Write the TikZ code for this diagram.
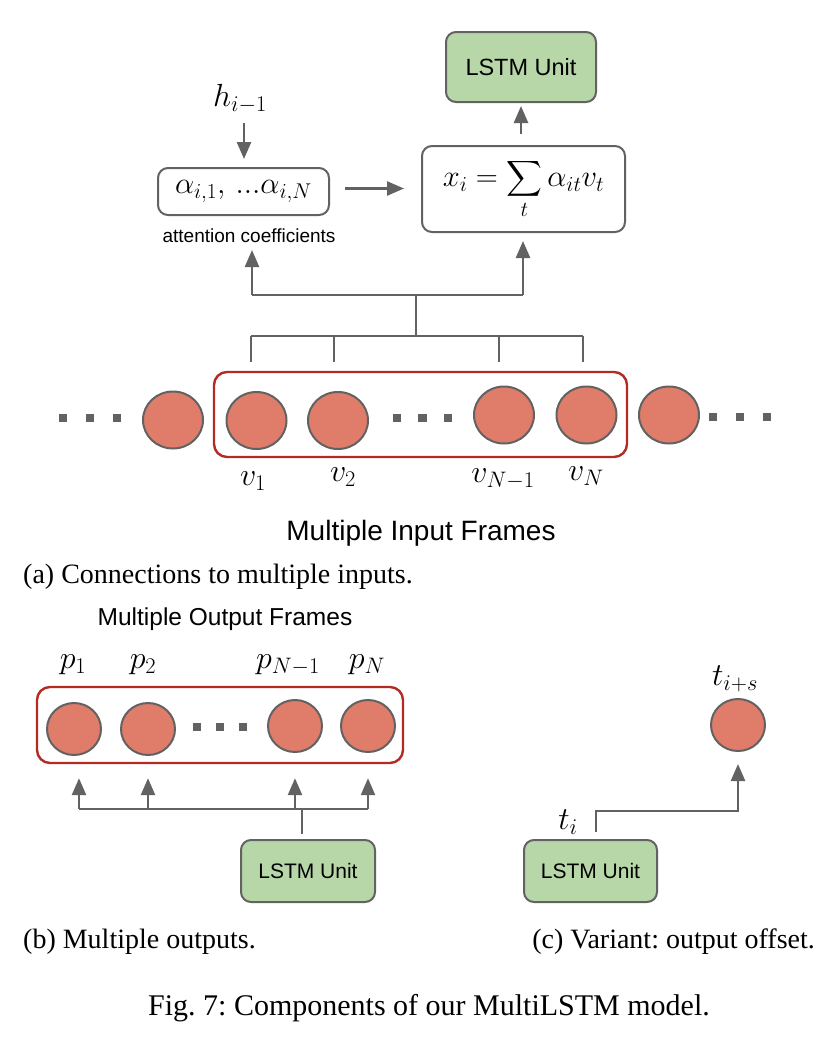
\RequirePackage{fix-cm}
\documentclass[tikz,border=0pt]{standalone}
\usepackage{exscale}
\usepackage[no-math]{fontspec}
\setmainfont{Liberation Serif}
\newfontfamily\arialf{Liberation Sans}
\usetikzlibrary{arrows.meta,shapes.geometric,calc}
\definecolor{gline}{RGB}{98,98,98}
\definecolor{frmred}{RGB}{178,44,34}
\definecolor{salmon}{RGB}{224,124,106}
\definecolor{lgreen}{RGB}{183,215,168}
\tikzset{
  conn/.style={draw=gline, line width=2.5pt},
  arr/.style={conn, -{Triangle[width=14pt,length=17pt]}},
  lstm/.style={draw=gline, line width=2pt, fill=lgreen, rounded corners=10pt, inner sep=0pt},
  wbox/.style={draw=gline, line width=2pt, fill=white, rounded corners=10pt, inner sep=0pt},
  redbox/.style={draw=frmred, line width=2.4pt, rounded corners=13pt, inner sep=0pt},
  frm/.style={ellipse, draw=gline, line width=2pt, fill=salmon, minimum width=60pt, minimum height=57pt, inner sep=0pt},
  frms/.style={frm, minimum width=54pt, minimum height=52pt},
  sqdot/.style={rectangle, fill=gline, minimum size=8.5pt, inner sep=0pt},
  mlab/.style={inner sep=0pt, font=\fontsize{32}{38}\selectfont},
  sflab/.style={inner sep=0pt, font=\arialf\fontsize{#1}{#1}\selectfont},
  captxt/.style={inner sep=0pt, font=\fontsize{28}{32}\selectfont},
}
\begin{document}
\frenchspacing
\begin{tikzpicture}[x=1pt,y=-1pt]
\useasboundingbox[fill=white] (0,0) rectangle (823,1058);

% ---------- (a) ----------
\node[lstm, minimum width=150pt, minimum height=70pt] (lstmA) at (521,67) {\arialf\fontsize{23.5}{26}\selectfont LSTM Unit};
\node[wbox, minimum width=203pt, minimum height=86pt] (sum) at (523.5,189) {\fontsize{30.5}{34}\selectfont $x_i = \displaystyle\sum_t \alpha_{it} v_t$};
\node[wbox, minimum width=171pt, minimum height=47pt] (alpha) at (243.5,191.5) {\fontsize{30.5}{34}\selectfont $\alpha_{i,1},\,...\alpha_{i,N}$};
\node[sflab=19, anchor=base] (att) at (249,242) {attention coefficients};
\node[mlab] (h) at (240,99) {$h_{i-1}$};

\draw[arr] ($(h.center -| alpha.north)+(0.5,24)$) -- ($(alpha.north)+(0.5,-8)$);
\draw[arr] ($(alpha.east)+(15,-3)$) -- ($(alpha.east -| sum.west)+(-17,-3)$);
\draw[arr] ($(lstmA.south |- sum.north)+(0,-11)$) -- ($(lstmA.south)+(0,3)$);

\coordinate (bL) at (252,295);
\coordinate (bR) at (523,295);
\coordinate (bM) at (416,295);
\draw[conn] (bL) -- (bR);
\draw[arr] (bL) -- ($(bL |- att.base)+(0,8)$);
\draw[arr] (bR) -- ($(bR |- sum.south)+(0,8)$);

\node[redbox, minimum width=413pt, minimum height=85pt] (boxA) at (420.5,414.5) {};
\node[frm] (o1) at (173,420) {};
\node[frm] (v1) at (256.5,420.5) {};
\node[frm] (v2) at (338,420.5) {};
\node[frm] (vn1) at (504,415) {};
\node[frm] (vn) at (586.5,415) {};
\node[frm] (o2) at (669,415) {};
\foreach \x [count=\i] in {63,90,117}{\node[sqdot] (dl\i) at (\x,418) {};}
\foreach \x [count=\i] in {397,422.5,448}{\node[sqdot] (dm\i) at (\x,418) {};}
\foreach \x [count=\i] in {713,740,767}{\node[sqdot] (dr\i) at (\x,417) {};}

\coordinate (tM) at (416,336);
\coordinate (d1) at (251,336);
\coordinate (d2) at (334,336);
\coordinate (d3) at (499,336);
\coordinate (d4) at (583,336);
\draw[conn] (bM) -- (tM);
\draw[conn] (d1) -- (d4);
\foreach \d in {d1,d2,d3,d4}{\draw[conn, shorten >=9pt] (\d) -- (\d |- boxA.north);}

\node[mlab] (lv1) at (253,481) {$v_1$};
\node[mlab] (lv2) at (343,477) {$v_2$};
\node[mlab] (lvn1) at (503,479) {$v_{N-1}$};
\node[mlab] (lvn) at (586,476) {$v_N$};

\node[sflab=28, anchor=base] (inlab) at (421,540) {Multiple Input Frames};
\node[captxt, anchor=base west] (capa) at (23,583) {(a) Connections to multiple inputs.};

% ---------- (b) ----------
\node[sflab=24.5, anchor=base] (outlab) at (225,625) {Multiple Output Frames};
\node[redbox, minimum width=366pt, minimum height=76pt] (boxB) at (220,725) {};
\node[frms] (p1) at (74,729) {};
\node[frms] (p2) at (148,729) {};
\node[frms] (pn1) at (295,726) {};
\node[frms] (pn) at (368,726) {};
\foreach \x [count=\i] in {197,220,243}{\node[sqdot] (db\i) at (\x,727) {};}
\node[mlab] (lp1) at (73,665) {$p_1$};
\node[mlab] (lp2) at (143,665) {$p_2$};
\node[mlab] (lpn1) at (288,665) {$p_{N-1}$};
\node[mlab] (lpn) at (367,665) {$p_N$};

\node[lstm, minimum width=134pt, minimum height=62pt] (lstmB) at (308,871) {\arialf\fontsize{21}{24}\selectfont LSTM Unit};
\coordinate (hb) at (302,809);
\coordinate (a1) at (79,809);
\coordinate (a2) at (148,809);
\coordinate (a3) at (295,809);
\coordinate (a4) at (368,809);
\draw[conn] (a1) -- (a4);
\draw[conn, shorten <=5pt] (hb |- lstmB.north) -- (hb);
\foreach \a in {a1,a2,a3,a4}{\draw[arr, shorten >=14pt] (\a) -- (\a |- boxB.south);}

% ---------- (c) ----------
\node[lstm, minimum width=133pt, minimum height=62pt] (lstmC) at (590.5,871) {\arialf\fontsize{21}{24}\selectfont LSTM Unit};
\node[frms] (ts) at (738,725) {};
\node[mlab] (lti) at (568,822) {$t_i$};
\node[mlab] (ltis) at (735,679) {$t_{i+s}$};
\coordinate (cT) at (596,811);
\draw[arr] ($(cT |- lstmC.north)+(0,-7)$) -- (cT) -| ($(ts.south)+(0,12)$);

\node[captxt, anchor=base west] (capb) at (23,948) {(b) Multiple outputs.};
\node[captxt, anchor=base east] (capc) at (815,948) {(c) Variant: output offset.};
\node[inner sep=0pt, font=\fontsize{30}{34}\selectfont, anchor=base] (fig) at (429,1015) {Fig. 7: Components of our MultiLSTM model.};
\end{tikzpicture}
\end{document}
